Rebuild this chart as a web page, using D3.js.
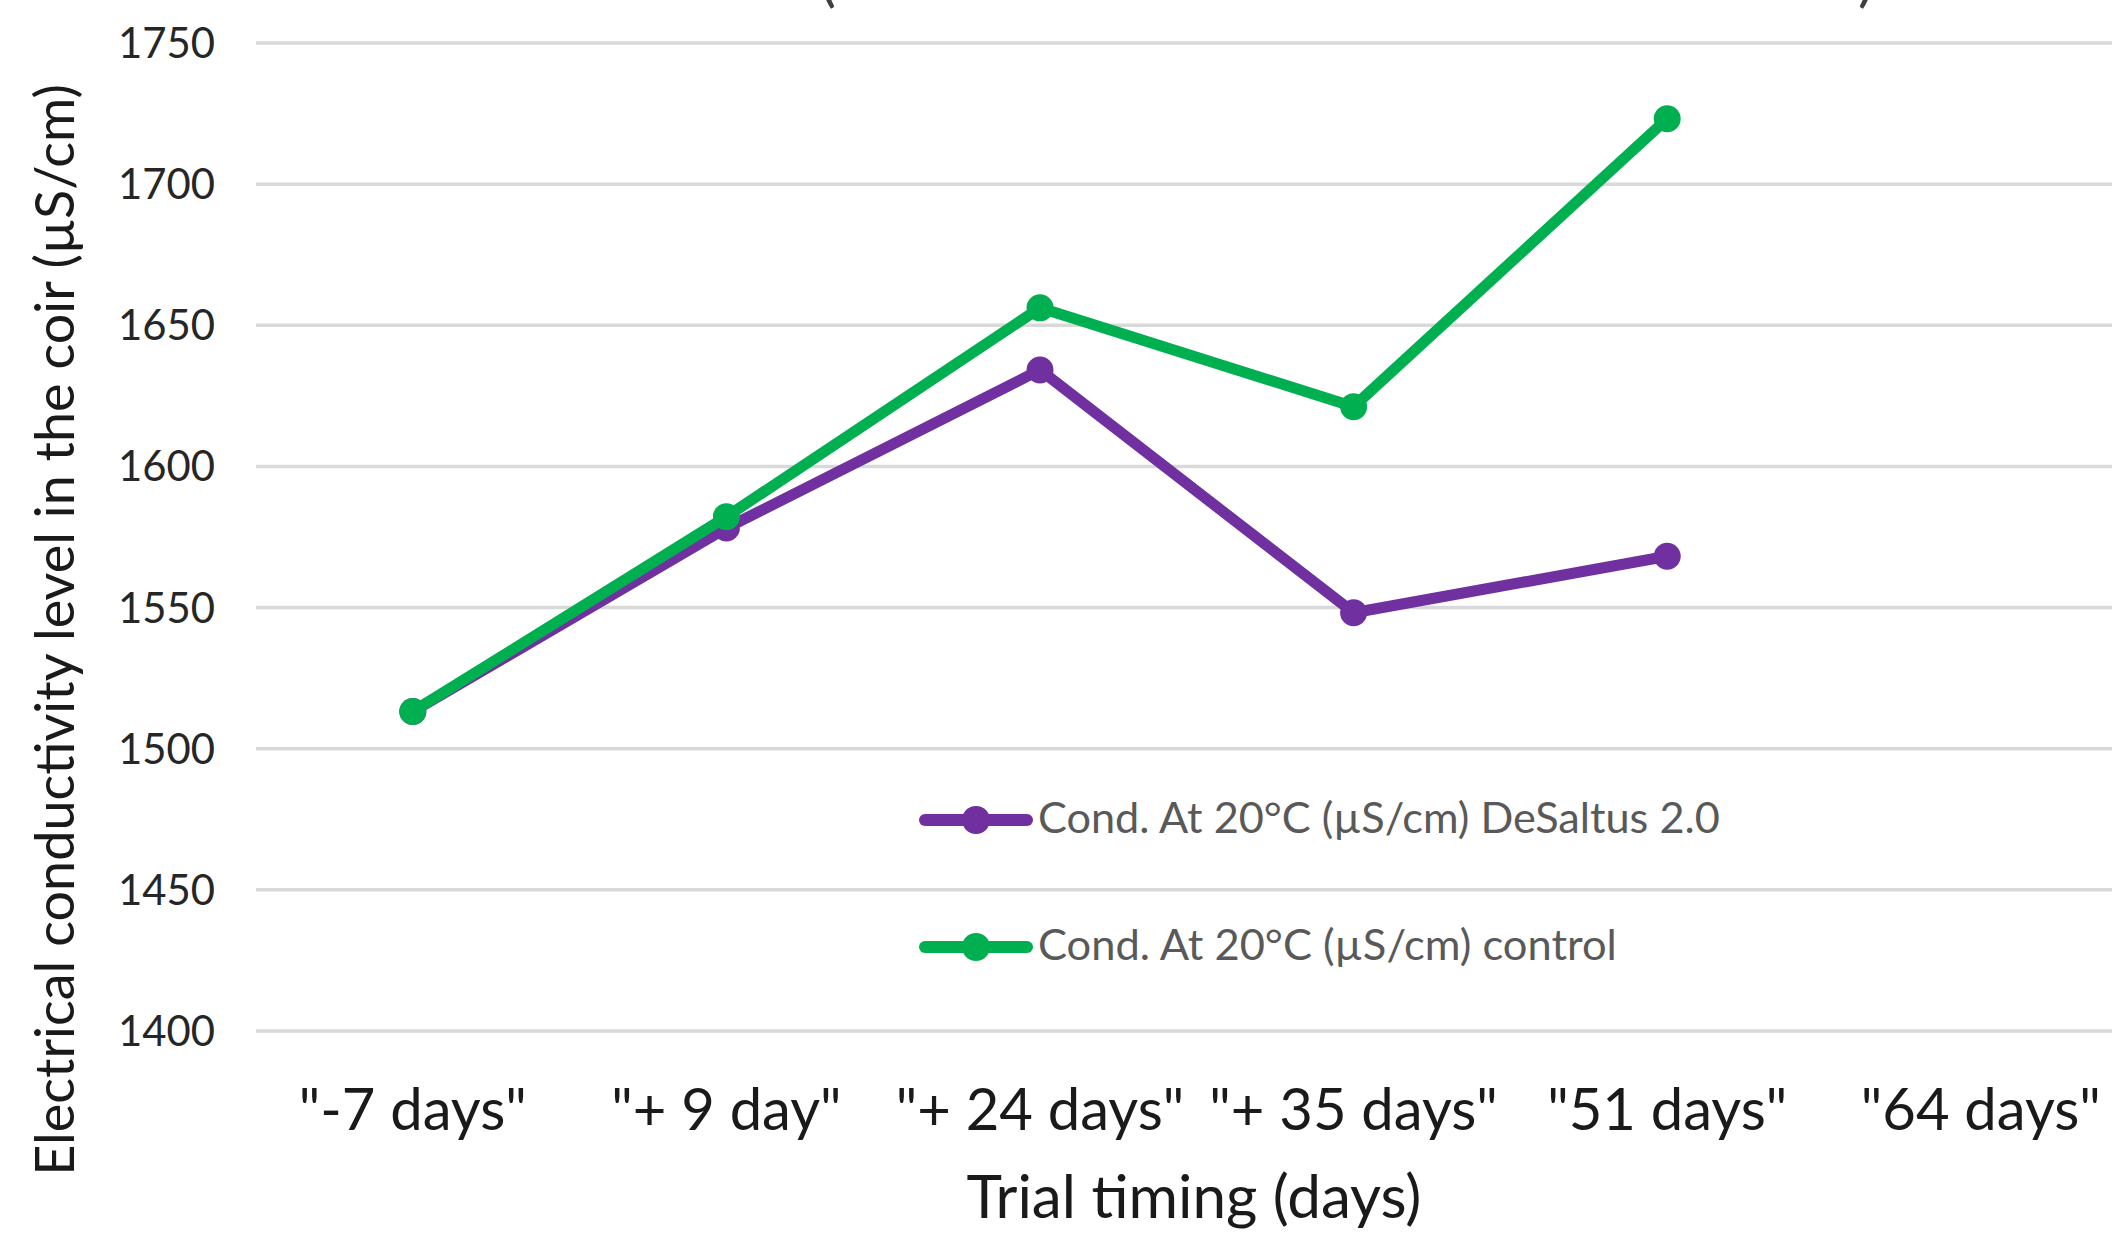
<!DOCTYPE html>
<html>
<head>
<meta charset="utf-8">
<script src="https://cdn.jsdelivr.net/npm/d3@7/dist/d3.min.js"></script>
<style>
  html, body { margin: 0; padding: 0; background: #fff; overflow: hidden; }
  svg { display: block; }
  text { font-family: Lato, "Open Sans", sans-serif; }
</style>
</head>
<body>
<svg id="chart" width="2112" height="1234"></svg>
<script>
// ---- data ----
const categories = ['"-7 days"', '"+ 9 day"', '"+ 24 days"', '"+ 35 days"', '"51 days"', '"64 days"'];
const desaltus = [1513, 1578, 1634, 1548, 1568, null];
const control  = [1513, 1582, 1656, 1621, 1723, null];
const yTicks = [1400, 1450, 1500, 1550, 1600, 1650, 1700, 1750];
const seriesNames = ["Cond. At 20°C (µS/cm) DeSaltus 2.0", "Cond. At 20°C (µS/cm) control"];
const seriesColors = ["#7030A0", "#00B050"];
const xTitle = "Trial timing (days)";
const yTitle = "Electrical conductivity level in the coir (µS/cm)";

const svg = d3.select("#chart");

// layout
const plotLeft = 256, step = 313.6;
const plotRight = plotLeft + step * categories.length;
const yTop = 42.5, yBottom = 1030.5;

const x = d3.scaleBand().domain(categories).range([plotLeft, plotRight]).padding(0);
const xc = c => x(c) + x.bandwidth() / 2;
const y = d3.scaleLinear().domain([1400, 1750]).range([yBottom, yTop]);

function fitFont(sel, target, start) {
  sel.attr("font-size", start);
  const len = sel.node().getComputedTextLength();
  const fs = start * target / len;
  sel.attr("font-size", fs);
  return fs;
}

// partial title (only bottoms of parentheses visible in the reference)
svg.append("text").attr("x", 828).attr("y", 0).attr("font-size", 60)
  .attr("text-anchor", "middle").attr("fill", "#404040").text("(");
svg.append("text").attr("x", 1866).attr("y", 0).attr("font-size", 60)
  .attr("text-anchor", "middle").attr("fill", "#404040").text(")");

// grid + y axis
const yAxis = d3.axisLeft(y).tickValues(yTicks).tickFormat(d3.format("d"))
  .tickSize(-(plotRight - plotLeft)).tickPadding(0);
const gy = svg.append("g").attr("transform", `translate(${plotLeft},0)`).call(yAxis);
gy.select(".domain").remove();
gy.selectAll(".tick line").attr("stroke", "#d9d9d9").attr("stroke-width", 3.5);
const probe = svg.append("text").text("1750");
const tickFs = fitFont(probe, 97, 40);
probe.remove();
gy.selectAll(".tick text").attr("font-size", tickFs).attr("fill", "#262626")
  .attr("x", 215 - plotLeft).attr("dy", null).attr("y", tickFs * 0.36)
  .attr("text-anchor", "end");

// x axis labels
const xAxis = d3.axisBottom(x).tickSize(0).tickPadding(0);
const gx = svg.append("g").attr("transform", `translate(0,${yBottom})`).call(xAxis);
gx.select(".domain").remove();
const probe2 = svg.append("text").text(categories[0]);
const xFs = fitFont(probe2, 228, 40);
probe2.remove();
gx.selectAll(".tick text").attr("font-size", xFs).attr("fill", "#1a1a1a")
  .attr("dy", null).attr("y", 1130 - yBottom);

// axis titles
const xt = svg.append("text").attr("x", 1194).attr("y", 1218)
  .attr("text-anchor", "middle").attr("fill", "#1a1a1a").text(xTitle);
fitFont(xt, 455, 50);

const yt = svg.append("text").attr("text-anchor", "middle").attr("fill", "#1a1a1a")
  .attr("transform", "translate(74,630) rotate(-90)").text(yTitle);
fitFont(yt, 1092, 50);

// series
const seriesData = [desaltus, control];
const line = d3.line()
  .defined(d => d.v != null)
  .x(d => xc(d.c)).y(d => y(d.v));

seriesData.forEach((vals, i) => {
  const pts = categories.map((c, j) => ({ c, v: vals[j] }));
  const g = svg.append("g");
  g.append("path").datum(pts).attr("d", line)
    .attr("fill", "none").attr("stroke", seriesColors[i])
    .attr("stroke-width", 11).attr("stroke-linejoin", "round").attr("stroke-linecap", "round");
  g.selectAll("circle").data(pts.filter(d => d.v != null)).join("circle")
    .attr("cx", d => xc(d.c)).attr("cy", d => y(d.v)).attr("r", 13.5)
    .attr("fill", seriesColors[i]);
});

// legend
const legY = [820, 947];
seriesNames.forEach((name, i) => {
  const g = svg.append("g");
  g.append("line").attr("x1", 925).attr("x2", 1027).attr("y1", legY[i]).attr("y2", legY[i])
    .attr("stroke", seriesColors[i]).attr("stroke-width", 12).attr("stroke-linecap", "round");
  g.append("circle").attr("cx", 976).attr("cy", legY[i]).attr("r", 14).attr("fill", seriesColors[i]);
  const t = g.append("text").attr("x", 1038).attr("y", legY[i] + 13).attr("fill", "#595959").text(name);
  fitFont(t, i === 0 ? 682 : 579, 40);
});
</script>
</body>
</html>
